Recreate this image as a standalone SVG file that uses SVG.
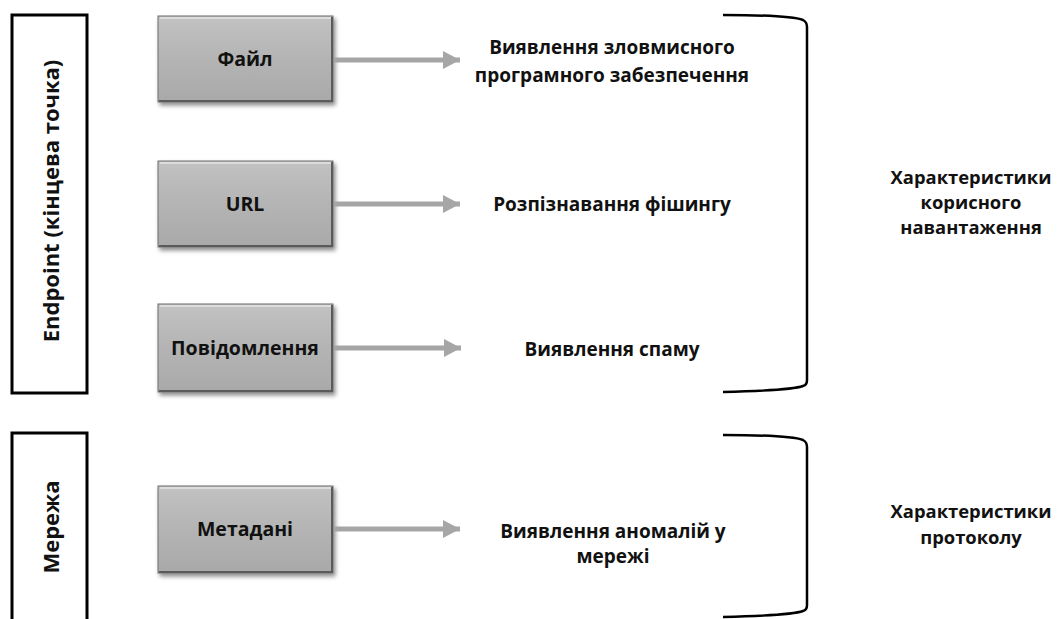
<svg xmlns="http://www.w3.org/2000/svg" width="1057" height="619" viewBox="0 0 1057 619">
  <style>
    text { font-family: "Open Sans", "Liberation Sans", sans-serif; font-weight: 700; fill: #111; }
    .lbl { font-size: 19.5px; text-anchor: middle; }
    .res { font-size: 19px; text-anchor: middle; }
    .feat { font-size: 18.4px; text-anchor: middle; }
    .side { font-size: 22px; text-anchor: middle; }
    .frame { fill: #fff; stroke: #000; stroke-width: 3; }
    .brace { fill: none; stroke: #000; stroke-width: 2.5; }
    .box { fill: url(#boxFill); stroke: #6e6e6e; stroke-width: 1; filter: url(#shadow); }
    .hi { fill: none; stroke: #dcdcdc; stroke-width: 2; }
    .lo { fill: none; stroke: #5a5a5a; stroke-width: 2; }
    .conn { stroke: #a6a6a6; stroke-width: 5; fill: none; }
  </style>
  <defs>
    <linearGradient id="boxFill" x1="0" y1="0" x2="0" y2="1">
      <stop offset="0" stop-color="#c2c2c2"/>
      <stop offset="0.5" stop-color="#b4b4b4"/>
      <stop offset="1" stop-color="#a9a9a9"/>
    </linearGradient>
    <filter id="shadow" x="-10%" y="-10%" width="125%" height="130%">
      <feDropShadow dx="2" dy="3" stdDeviation="2" flood-color="#000" flood-opacity="0.45"/>
    </filter>
    <marker id="head" markerUnits="userSpaceOnUse" markerWidth="18" markerHeight="20" refX="17" refY="10" orient="auto">
      <path d="M0,1 L17,10 L0,19 Z" fill="#a6a6a6"/>
    </marker>
  </defs>

  <!-- category frames on the left -->
  <g id="endpoint">
    <rect class="frame" x="12" y="15" width="75" height="378"/>
    <text class="side" transform="translate(59,201) rotate(-90)">Endpoint (кінцева точка)</text>
  </g>
  <g id="network">
    <rect class="frame" x="12" y="433" width="75" height="210"/>
    <text class="side" transform="translate(59,527) rotate(-90)">Мережа</text>
  </g>

  <!-- source boxes -->
  <g id="file">
    <rect class="box" x="158" y="16" width="175" height="86"/>
    <path class="hi" d="M160,18 H331"/>
    <path class="lo" d="M332,17 V101 H159"/>
    <text class="lbl" x="245" y="66">Файл</text>
  </g>
  <g id="url">
    <rect class="box" x="158" y="161" width="175" height="86"/>
    <path class="hi" d="M160,163 H331"/>
    <path class="lo" d="M332,162 V246 H159"/>
    <text class="lbl" x="245" y="211">URL</text>
  </g>
  <g id="message">
    <rect class="box" x="158" y="304" width="175" height="88"/>
    <path class="hi" d="M160,306 H331"/>
    <path class="lo" d="M332,305 V391 H159"/>
    <text class="lbl" x="245" y="355">Повідомлення</text>
  </g>
  <g id="metadata">
    <rect class="box" x="158" y="486" width="175" height="87"/>
    <path class="hi" d="M160,488 H331"/>
    <path class="lo" d="M332,487 V572 H159"/>
    <text class="lbl" x="245" y="536">Метадані</text>
  </g>

  <!-- arrows -->
  <g id="connectors">
    <path class="conn" d="M334,60 H460" marker-end="url(#head)"/>
    <path class="conn" d="M334,204 H460" marker-end="url(#head)"/>
    <path class="conn" d="M334,348 H461" marker-end="url(#head)"/>
    <path class="conn" d="M334,529 H460" marker-end="url(#head)"/>
  </g>

  <!-- outcomes -->
  <g id="malware">
    <text class="res" x="612" y="54">Виявлення зловмисного</text>
    <text class="res" x="612" y="82">програмного забезпечення</text>
  </g>
  <g id="phishing">
    <text class="res" x="612" y="211">Розпізнавання фішингу</text>
  </g>
  <g id="spam">
    <text class="res" x="612" y="356">Виявлення спаму</text>
  </g>
  <g id="anomaly">
    <text class="res" x="613" y="538">Виявлення аномалій у</text>
    <text class="res" x="613" y="563">мережі</text>
  </g>

  <!-- braces -->
  <g id="brace-payload">
    <path class="brace" d="M723,15 C765,15 795,17 803,20 Q807,22 807,27 V380 Q807,385 803,386 C795,389 765,391 723,392"/>
  </g>
  <g id="brace-protocol">
    <path class="brace" d="M723,435 C765,435 795,437 803,440 Q807,442 807,447 V605 Q807,610 803,611 C795,614 765,616 723,617"/>
  </g>

  <!-- feature groups -->
  <g id="payload">
    <text class="feat" x="971" y="184">Характеристики</text>
    <text class="feat" x="971" y="209">корисного</text>
    <text class="feat" x="971" y="234">навантаження</text>
  </g>
  <g id="protocol">
    <text class="feat" x="971" y="518">Характеристики</text>
    <text class="feat" x="971" y="544">протоколу</text>
  </g>
</svg>
